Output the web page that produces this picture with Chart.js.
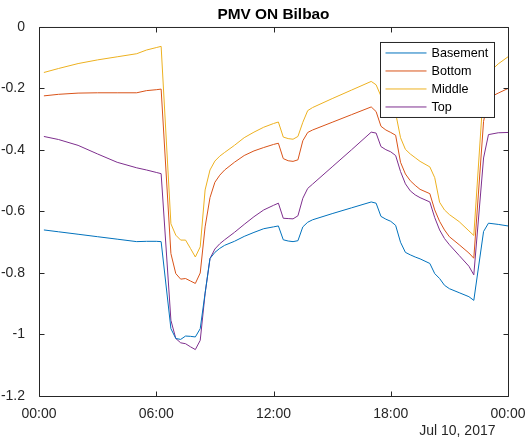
<!DOCTYPE html>
<html>
<head>
<meta charset="utf-8">
<script src="https://cdn.jsdelivr.net/npm/chart.js@4.4.1/dist/chart.umd.min.js"></script>
<style>
  body { margin: 0; background: #fff; }
</style>
</head>
<body>
<canvas id="pmv" width="532" height="442"></canvas>
<script>
// hours since midnight, Jul 10 2017
const times = [0.25, 1, 2, 3, 4, 5, 5.5, 6, 6.25, 6.75, 7, 7.25, 7.5, 7.75, 8, 8.25, 8.5, 8.75, 9, 9.25, 9.5, 10, 10.5, 11, 11.5, 12, 12.25, 12.5, 12.75, 13, 13.25, 13.5, 13.75, 14, 15, 16, 17, 17.25, 17.5, 17.75, 18, 18.25, 18.5, 18.75, 19, 19.25, 19.5, 20, 20.25, 20.5, 20.75, 21, 21.5, 22, 22.25, 22.75, 23, 23.5, 24];

const basement = [-0.66, -0.666, -0.674, -0.682, -0.69, -0.698, -0.697, -0.697, -0.698, -0.981, -1.013, -1.016, -1.005, -1.006, -1.008, -0.981, -0.865, -0.753, -0.733, -0.72, -0.71, -0.697, -0.681, -0.668, -0.656, -0.65, -0.647, -0.692, -0.696, -0.698, -0.695, -0.65, -0.635, -0.627, -0.607, -0.588, -0.569, -0.573, -0.616, -0.625, -0.632, -0.645, -0.70, -0.733, -0.741, -0.748, -0.754, -0.769, -0.802, -0.818, -0.84, -0.851, -0.864, -0.877, -0.889, -0.665, -0.638, -0.642, -0.647];

const bottom = [-0.224, -0.219, -0.215, -0.214, -0.214, -0.214, -0.207, -0.204, -0.202, -0.737, -0.802, -0.82, -0.818, -0.826, -0.834, -0.80, -0.65, -0.555, -0.505, -0.482, -0.465, -0.44, -0.418, -0.403, -0.392, -0.382, -0.378, -0.428, -0.435, -0.437, -0.432, -0.37, -0.343, -0.335, -0.31, -0.285, -0.26, -0.275, -0.323, -0.335, -0.343, -0.352, -0.44, -0.478, -0.50, -0.515, -0.528, -0.542, -0.595, -0.632, -0.66, -0.682, -0.708, -0.735, -0.752, -0.307, -0.231, -0.215, -0.2];

const middle = [-0.148, -0.135, -0.119, -0.107, -0.097, -0.087, -0.075, -0.067, -0.063, -0.64, -0.677, -0.693, -0.693, -0.72, -0.748, -0.715, -0.53, -0.465, -0.436, -0.42, -0.408, -0.385, -0.36, -0.342, -0.326, -0.314, -0.309, -0.358, -0.363, -0.365, -0.356, -0.31, -0.272, -0.262, -0.233, -0.205, -0.177, -0.188, -0.225, -0.24, -0.255, -0.28, -0.36, -0.398, -0.413, -0.425, -0.437, -0.455, -0.49, -0.57, -0.595, -0.61, -0.633, -0.663, -0.678, -0.2, -0.15, -0.12, -0.097];

const top_ = [-0.356, -0.366, -0.385, -0.413, -0.44, -0.458, -0.465, -0.473, -0.477, -0.954, -1.013, -1.027, -1.03, -1.04, -1.049, -1.019, -0.867, -0.753, -0.722, -0.705, -0.692, -0.668, -0.642, -0.617, -0.595, -0.58, -0.573, -0.622, -0.623, -0.624, -0.614, -0.557, -0.525, -0.511, -0.455, -0.399, -0.342, -0.345, -0.389, -0.399, -0.406, -0.418, -0.47, -0.51, -0.533, -0.546, -0.555, -0.569, -0.62, -0.66, -0.688, -0.708, -0.743, -0.778, -0.806, -0.426, -0.35, -0.344, -0.343];

const seriesNames = ['Basement', 'Bottom', 'Middle', 'Top'];
const seriesColors = ['#0072BD', '#D95319', '#EDB120', '#7E2F8E'];
const dateLabel = 'Jul 10, 2017';

const font = '"Liberation Sans", Arial, sans-serif';
const axisColor = '#262626';

const toPoints = vals => times.map((t, i) => ({ x: t, y: vals[i] }));

// matlab style box with inward ticks on all four sides
const framePlugin = {
  id: 'frame',
  afterDraw(chart) {
    const { ctx, chartArea: a, scales } = chart;
    const L = a.left + 0.5, R = a.right + 0.5, T = a.top + 0.5, B = a.bottom + 0.5;
    ctx.save();
    ctx.strokeStyle = axisColor;
    ctx.lineWidth = 1;
    ctx.beginPath();
    ctx.rect(L, T, R - L, B - T);
    scales.x.ticks.forEach(t => {
      const px = Math.round(scales.x.getPixelForValue(t.value)) + 0.5;
      ctx.moveTo(px, B); ctx.lineTo(px, B - 5);
      ctx.moveTo(px, T); ctx.lineTo(px, T + 5);
    });
    scales.y.ticks.forEach(t => {
      const py = Math.round(scales.y.getPixelForValue(t.value)) + 0.5;
      ctx.moveTo(L, py); ctx.lineTo(L + 5, py);
      ctx.moveTo(R, py); ctx.lineTo(R - 5, py);
    });
    ctx.stroke();

    // date under the time axis
    ctx.fillStyle = axisColor;
    ctx.font = '14px ' + font;
    ctx.textAlign = 'right';
    ctx.textBaseline = 'middle';
    ctx.fillText(dateLabel, a.right - 12.5, a.bottom + 35);

    // legend box, upper right
    const bx = a.right - 127.5, by = a.top + 15.5, bw = 114, bh = 75;
    ctx.fillStyle = '#fff';
    ctx.fillRect(bx, by, bw, bh);
    ctx.strokeRect(bx, by, bw, bh);
    ctx.font = '12.6px ' + font;
    ctx.textAlign = 'left';
    chart.data.datasets.forEach((ds, i) => {
      const y = by + 10.5 + i * 18;
      ctx.strokeStyle = ds.borderColor;
      ctx.beginPath();
      ctx.moveTo(bx + 5, y);
      ctx.lineTo(bx + 46, y);
      ctx.stroke();
      ctx.fillStyle = '#000';
      ctx.fillText(ds.label, bx + 51, y + 0.5);
    });
    ctx.restore();
  }
};

new Chart(document.getElementById('pmv'), {
  type: 'line',
  data: {
    datasets: [basement, bottom, middle, top_].map((vals, i) => ({
      label: seriesNames[i],
      data: toPoints(vals),
      borderColor: seriesColors[i],
      backgroundColor: seriesColors[i],
      borderWidth: 1,
      pointRadius: 0,
      tension: 0,
      fill: false
    }))
  },
  options: {
    responsive: false,
    animation: false,
    devicePixelRatio: 1,
    layout: { padding: { left: 0, right: 24, top: 0, bottom: 0 } },
    plugins: {
      legend: { display: false },
      tooltip: { enabled: false },
      title: {
        display: true,
        fullSize: false,
        text: 'PMV ON Bilbao',
        color: '#000',
        font: { family: font, size: 15.4, weight: 'bold' },
        padding: { top: 5.5, bottom: 3 }
      }
    },
    scales: {
      x: {
        type: 'linear',
        min: 0,
        max: 24,
        grid: { display: false },
        border: { display: false },
        ticks: {
          stepSize: 6,
          padding: 2,
          color: axisColor,
          font: { family: font, size: 14 },
          maxRotation: 0,
          callback: v => String(v % 24).padStart(2, '0') + ':00'
        },
        afterFit: s => { s.height = 46; }
      },
      y: {
        min: -1.2,
        max: 0,
        grid: { display: false },
        border: { display: false },
        ticks: {
          stepSize: 0.2,
          padding: 6,
          color: axisColor,
          font: { family: font, size: 14 },
          callback: v => String(Number(v.toFixed(1)))
        },
        afterFit: s => { s.width = 39; }
      }
    }
  },
  plugins: [framePlugin]
});
</script>
</body>
</html>
